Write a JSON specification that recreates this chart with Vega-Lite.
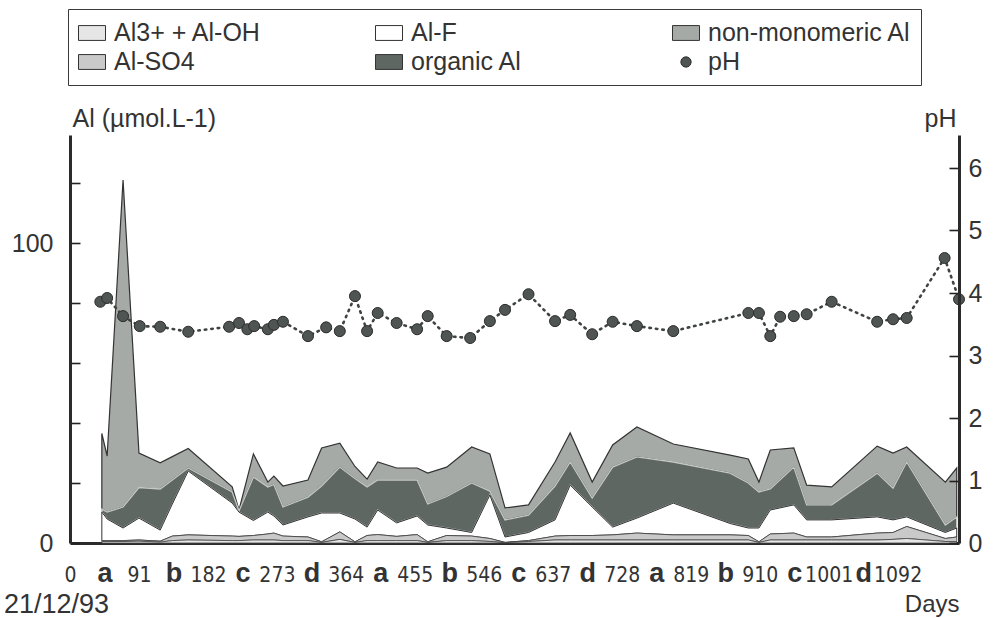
{
  "$schema": "https://vega.github.io/schema/vega-lite/v6.json",
  "width": 889,
  "height": 408,
  "autosize": {"type": "none"},
  "padding": {"left": 70, "top": 135, "right": 36, "bottom": 75},
  "background": "white",
  "config": {
    "font": "Liberation Sans",
    "view": {"stroke": null},
    "axis": {"grid": false, "labelColor": "#333", "titleColor": "#333", "domainColor": "#2b2b2b", "tickColor": "#2b2b2b", "labelFont": "Liberation Sans", "titleFont": "Liberation Sans", "titleFontWeight": "normal"}
  },
  "title": {"text": "21/12/93", "orient": "bottom", "anchor": "start", "frame": "group", "dx": -66, "offset": -24, "fontSize": 27, "fontWeight": "normal", "color": "#333", "font": "Liberation Sans"},
  "datasets": {
    "al": [
      {"day":42,"a":0.5,"s":0.8,"f":10.3,"o":11.3,"n":36.5},
      {"day":49,"a":0.5,"s":0.8,"f":8,"o":10.3,"n":29},
      {"day":70,"a":0.5,"s":0.8,"f":5,"o":12,"n":121},
      {"day":91,"a":0.6,"s":1,"f":8.3,"o":18.5,"n":30},
      {"day":119,"a":0.3,"s":0.6,"f":4.3,"o":18,"n":26.7},
      {"day":135,"a":0.8,"s":2.3,"f":13,"o":21,"n":28.8},
      {"day":156,"a":1,"s":2.7,"f":24,"o":25,"n":31.5},
      {"day":214,"a":0.8,"s":2.3,"f":13.3,"o":17,"n":18.7},
      {"day":223,"a":0.8,"s":2.2,"f":10.3,"o":10.7,"n":11},
      {"day":242,"a":1,"s":2.5,"f":7.5,"o":22,"n":29.7},
      {"day":261,"a":1,"s":3,"f":10.3,"o":18.7,"n":20.3},
      {"day":269,"a":1,"s":3.3,"f":9,"o":19.5,"n":22.3},
      {"day":281,"a":0.8,"s":2.3,"f":6,"o":12,"n":19},
      {"day":314,"a":0.8,"s":2,"f":8.7,"o":15.3,"n":21},
      {"day":332,"a":0.2,"s":0.4,"f":10,"o":19,"n":31.7},
      {"day":356,"a":1.2,"s":3.7,"f":10,"o":25.3,"n":33.3},
      {"day":376,"a":0.2,"s":0.4,"f":8,"o":21.5,"n":25.5},
      {"day":392,"a":0.8,"s":2.5,"f":5.3,"o":18.7,"n":21.3},
      {"day":406,"a":0.8,"s":2.8,"f":11,"o":21,"n":27},
      {"day":431,"a":0.8,"s":2.2,"f":6.7,"o":21,"n":25},
      {"day":458,"a":0.8,"s":2.8,"f":9,"o":21,"n":25},
      {"day":472,"a":0.2,"s":0.4,"f":6,"o":13,"n":23.3},
      {"day":497,"a":0.8,"s":2.5,"f":5,"o":15.5,"n":25.3},
      {"day":530,"a":0.8,"s":2.3,"f":3.5,"o":20,"n":32},
      {"day":554,"a":0.5,"s":1.5,"f":16,"o":17.3,"n":29.7},
      {"day":574,"a":0.1,"s":0.2,"f":2,"o":7.7,"n":11.7},
      {"day":605,"a":0.5,"s":0.8,"f":3.5,"o":9.3,"n":12.7},
      {"day":640,"a":1,"s":2.3,"f":7.7,"o":19,"n":27},
      {"day":660,"a":1,"s":2.5,"f":19.3,"o":27,"n":36.7},
      {"day":689,"a":1,"s":2.5,"f":12,"o":15,"n":20.3},
      {"day":716,"a":1,"s":2.7,"f":5.3,"o":25.3,"n":32.7},
      {"day":748,"a":1,"s":3.3,"f":8.3,"o":28.7,"n":38.7},
      {"day":796,"a":1,"s":2.7,"f":13.3,"o":27,"n":33},
      {"day":871,"a":1,"s":2.7,"f":6.5,"o":23.3,"n":29.3},
      {"day":895,"a":1,"s":2.5,"f":5,"o":20,"n":28},
      {"day":909,"a":0.2,"s":0.4,"f":5,"o":17,"n":20.3},
      {"day":924,"a":1,"s":3,"f":11,"o":18,"n":31},
      {"day":955,"a":1,"s":3.3,"f":12.7,"o":25.3,"n":31.7},
      {"day":972,"a":1,"s":2,"f":7.7,"o":12.7,"n":19.3},
      {"day":1005,"a":1,"s":2,"f":7.7,"o":12.7,"n":18.7},
      {"day":1065,"a":1,"s":3.3,"f":8.7,"o":23.3,"n":32.3},
      {"day":1086,"a":1.2,"s":3.5,"f":7.7,"o":18.3,"n":30},
      {"day":1104,"a":1.5,"s":5.5,"f":8.7,"o":27,"n":32},
      {"day":1155,"a":0.5,"s":1.5,"f":3.5,"o":6,"n":20.3},
      {"day":1170,"a":0.5,"s":2,"f":5,"o":8.7,"n":25}
    ],
    "ph": [
      {"day":40,"pH":3.86},{"day":49,"pH":3.92},{"day":70,"pH":3.63},{"day":92,"pH":3.47},
      {"day":119,"pH":3.46},{"day":156,"pH":3.38},{"day":210,"pH":3.46},{"day":223,"pH":3.52},
      {"day":234,"pH":3.42},{"day":243,"pH":3.47},{"day":261,"pH":3.42},{"day":269,"pH":3.49},
      {"day":281,"pH":3.54},{"day":314,"pH":3.31},{"day":338,"pH":3.45},{"day":356,"pH":3.39},
      {"day":376,"pH":3.95},{"day":392,"pH":3.39},{"day":406,"pH":3.68},{"day":431,"pH":3.52},
      {"day":458,"pH":3.42},{"day":472,"pH":3.63},{"day":497,"pH":3.31},{"day":528,"pH":3.28},
      {"day":554,"pH":3.55},{"day":574,"pH":3.73},{"day":605,"pH":3.98},{"day":640,"pH":3.55},
      {"day":660,"pH":3.65},{"day":689,"pH":3.34},{"day":716,"pH":3.54},{"day":748,"pH":3.47},
      {"day":796,"pH":3.39},{"day":895,"pH":3.68},{"day":909,"pH":3.68},{"day":924,"pH":3.31},
      {"day":937,"pH":3.62},{"day":955,"pH":3.63},{"day":972,"pH":3.66},{"day":1005,"pH":3.86},
      {"day":1065,"pH":3.54},{"day":1086,"pH":3.58},{"day":1104,"pH":3.6},{"day":1154,"pH":4.56},
      {"day":1173,"pH":3.9}
    ]
  },
  "encoding": {
    "x": {
      "field": "day", "type": "quantitative", "title": "Days",
      "scale": {"domain": [0, 1173], "nice": false, "zero": false},
      "axis": {
        "values": [0,45.5,91,136.5,182,227.5,273,318.5,364,409.5,455,500.5,546,591.5,637,682.5,728,773.5,819,864.5,910,955.5,1001,1046.5,1092],
        "format": "d",
        "labelExpr": "datum.value % 91 === 0 ? datum.label : ['a','b','c','d'][floor(datum.value / 91) % 4]",
        "ticks": false, "domainWidth": 3,
        "labelBaseline": "alphabetic", "labelPadding": 38,
        "labelFont": {"condition": {"test": "datum.value % 91 === 0", "value": "Liberation Sans Narrow, DejaVu Sans Condensed, Liberation Sans"}, "value": "Liberation Sans"},
        "labelFontSize": {"condition": {"test": "datum.value % 91 === 0", "value": 21}, "value": 27},
        "labelFontWeight": {"condition": {"test": "datum.value % 91 === 0", "value": "normal"}, "value": "bold"},
        "labelOverlap": false, "labelBound": false, "labelFlush": false,
        "titleX": 889, "titleY": 68, "titleAlign": "right", "titleBaseline": "alphabetic", "titleFontSize": 24, "titleAnchor": null
      }
    }
  },
  "layer": [
    {
      "data": {"name": "al"},
      "layer": [
        {
          "mark": {"type": "area", "stroke": "#333", "strokeWidth": 1.2, "opacity": 1},
          "encoding": {
            "y": {"field": "n", "type": "quantitative", "title": "Al (µmol.L-1)",
              "scale": {"domain": [0, 136], "nice": false, "zero": true},
              "axis": {"orient": "left", "values": [0,10,20,30,40,50,60,70,80,90,100,110,120,130],
                "labelExpr": "datum.value % 50 === 0 ? datum.label : ''",
                "ticks": false, "tickSize": 0, "grid": true, "gridDash": [10, 2000], "gridWidth": 1.6, "gridColor": "#222", "zindex": 1,
                "domainWidth": 3, "labelFontSize": 25, "labelPadding": 17,
                "titleAngle": 0, "titleAlign": "left", "titleBaseline": "alphabetic", "titleX": 2, "titleY": -9, "titleFontSize": 25, "titleAnchor": null}},
            "y2": {"field": "o"},
            "color": {"datum": "non-monomeric Al",
              "scale": {"domain": ["Al3+ + Al-OH", "Al-SO4", "Al-F", "organic Al", "non-monomeric Al", "pH"],
                        "range": ["#e6e6e6", "#c9c9c9", "#ffffff", "#5f6763", "#a5aaa7", "#4f5552"]},
              "legend": {"orient": "none", "legendX": -2, "legendY": -126, "title": null, "columns": 3,
                "columnPadding": 56, "rowPadding": 2, "padding": 10, "strokeColor": "#3a3a3a", "fillColor": "white",
                "labelFontSize": 25, "labelFont": "Liberation Sans", "labelColor": "#333", "labelOffset": 8, "labelLimit": 320,
                "symbolSize": 729, "gridAlign": "all",
                "symbolStrokeColor": "#333", "symbolStrokeWidth": 1, "symbolOpacity": 1}}
          }
        },
        {
          "mark": {"type": "area", "stroke": "#c5c9c6", "strokeWidth": 1.3, "opacity": 1},
          "encoding": {
            "y": {"field": "o", "type": "quantitative", "title": "Al (µmol.L-1)"},
            "y2": {"field": "f"},
            "color": {"datum": "organic Al"}
          }
        },
        {
          "mark": {"type": "area", "stroke": "#333", "strokeWidth": 1, "opacity": 1},
          "encoding": {
            "y": {"field": "f", "type": "quantitative", "title": "Al (µmol.L-1)"},
            "y2": {"field": "s"},
            "color": {"datum": "Al-F"}
          }
        },
        {
          "mark": {"type": "area", "stroke": "#444", "strokeWidth": 0.8, "opacity": 1},
          "encoding": {
            "y": {"field": "s", "type": "quantitative", "title": "Al (µmol.L-1)"},
            "y2": {"field": "a"},
            "color": {"datum": "Al-SO4"}
          }
        },
        {
          "mark": {"type": "area", "stroke": "#444", "strokeWidth": 0.8, "opacity": 1},
          "encoding": {
            "y": {"field": "a", "type": "quantitative", "title": "Al (µmol.L-1)"},
            "y2": {"datum": 0},
            "color": {"datum": "Al3+ + Al-OH"}
          }
        }
      ]
    },
    {
      "data": {"name": "ph"},
      "layer": [
        {
          "mark": {"type": "line", "strokeDash": [1.5, 5], "strokeWidth": 2.6, "strokeCap": "round", "color": "#3f4441"},
          "encoding": {
            "y": {"field": "pH", "type": "quantitative", "title": "pH",
              "scale": {"domain": [0, 6.528], "nice": false, "zero": true},
              "axis": {"orient": "right", "values": [0,0.25,0.5,0.75,1,1.25,1.5,1.75,2,2.25,2.5,2.75,3,3.25,3.5,3.75,4,4.25,4.5,4.75,5,5.25,5.5,5.75,6,6.25,6.5],
                "format": "d",
                "labelExpr": "datum.value % 1 === 0 ? datum.label : ''",
                "ticks": false, "tickSize": 0, "grid": true, "gridDash": [10, 2000], "gridWidth": 1.6, "gridColor": "#222", "zindex": 1,
                "domainWidth": 3, "labelFontSize": 25, "labelPadding": 9,
                "titleAngle": 0, "titleAlign": "right", "titleBaseline": "alphabetic", "titleX": -3, "titleY": -9, "titleFontSize": 25, "titleAnchor": null}}
          }
        },
        {
          "mark": {"type": "point", "filled": true, "size": 840, "strokeWidth": 1, "opacity": 1},
          "encoding": {
            "y": {"field": "pH", "type": "quantitative", "title": "pH"},
            "color": {"datum": "pH"},
            "stroke": {"datum": "pH",
              "scale": {"domain": ["Al3+ + Al-OH", "Al-SO4", "Al-F", "organic Al", "non-monomeric Al", "pH"],
                        "range": ["#333333", "#333333", "#333333", "#333333", "#333333", "#2e2e2e"]}},
            "shape": {"datum": "pH",
              "scale": {"domain": ["Al3+ + Al-OH", "Al-SO4", "Al-F", "organic Al", "non-monomeric Al", "pH"],
                        "range": ["M-1,-0.55H1V0.55H-1Z", "M-1,-0.55H1V0.55H-1Z", "M-1,-0.55H1V0.55H-1Z", "M-1,-0.55H1V0.55H-1Z", "M-1,-0.55H1V0.55H-1Z", "M-0.38,0A0.38,0.38 0 1,0 0.38,0A0.38,0.38 0 1,0 -0.38,0Z"]}}
          }
        }
      ]
    }
  ],
  "resolve": {"scale": {"y": "independent"}}
}
